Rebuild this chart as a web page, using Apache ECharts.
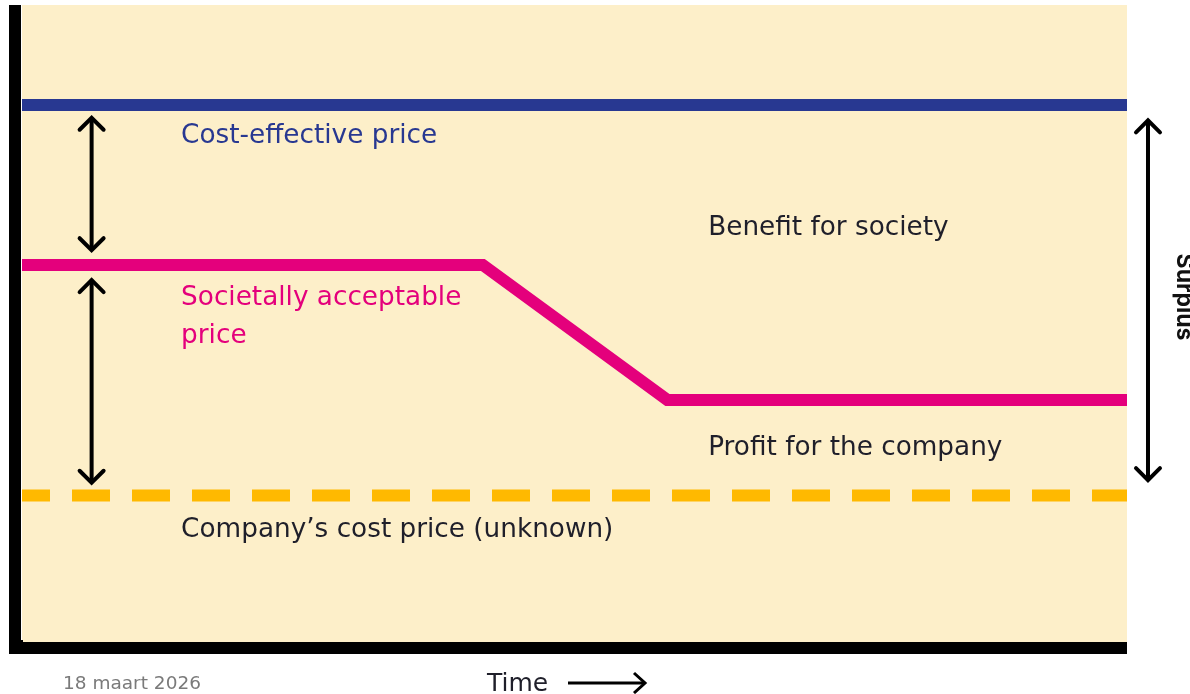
<!DOCTYPE html>
<html>
<head>
<meta charset="utf-8">
<script src="https://cdn.jsdelivr.net/npm/echarts@6/dist/echarts.min.js"></script>
<style>
html,body{margin:0;padding:0;background:#fff;}
#chart{width:1190px;height:694px;}
</style>
</head>
<body>
<div id="chart"></div>
<script>
// ---- data (conceptual price levels, 0-100 scale) ----
var costEffective = [[0, 84.3], [100, 84.3]];
var societal = [[0, 59.2], [41.7, 59.2], [58.4, 38.0], [100, 38.0]];
var companyCost = [[0, 23.0], [100, 23.0]];
// double arrows: [x, yFrom, yTo]
var arrows = [[6.3, 82.3, 61.5], [6.3, 56.8, 25.0], [101.9, 81.9, 25.4]];
// labels: [x, y, text]
var labels = [
  [14.4, 79.4, 'Cost-effective price'],
  [62.1, 65.0, 'Benefit for society'],
  [14.4, 54.0, 'Societally acceptable'],
  [14.4, 48.0, 'price'],
  [62.1, 30.4, 'Profit for the company'],
  [14.4, 17.5, 'Company\u2019s cost price (unknown)']
];
var labelColors = ['#283891', '#1f1f2a', '#e4007c', '#e4007c', '#1f1f2a', '#1f1f2a'];

var FONT = '"DejaVu Sans"';
var chart = echarts.init(document.getElementById('chart'), null, {renderer: 'canvas'});
chart.setOption({
  animation: false,
  backgroundColor: '#ffffff',
  grid: {left: 22, top: 5, width: 1105, height: 637, show: true, backgroundColor: '#fdefc9', borderWidth: 0},
  xAxis: {
    type: 'value', min: 0, max: 100, offset: 6,
    axisLine: {show: true, onZero: false, lineStyle: {color: '#000', width: 12, cap: 'butt'}},
    axisTick: {show: false}, axisLabel: {show: false}, splitLine: {show: false}
  },
  yAxis: {
    type: 'value', min: 0, max: 100, offset: 7,
    axisLine: {show: true, onZero: false, lineStyle: {color: '#000', width: 12, cap: 'butt'}},
    axisTick: {show: false}, axisLabel: {show: false}, splitLine: {show: false}
  },
  series: [
    {type: 'line', data: costEffective, symbol: 'none', lineStyle: {color: '#283891', width: 12, cap: 'butt'}},
    {type: 'line', data: companyCost, symbol: 'none', lineStyle: {color: '#ffb900', width: 12, type: [38, 22], dashOffset: 10, cap: 'butt'}},
    {type: 'line', data: societal, symbol: 'none', lineStyle: {color: '#e4007c', width: 12, join: 'miter', cap: 'butt'}},
    {
      type: 'custom', clip: false, data: arrows,
      renderItem: function (params, api) {
        var a = api.coord([api.value(0), api.value(1)]);
        var b = api.coord([api.value(0), api.value(2)]);
        var w = 12, h = 12;
        var st = {stroke: '#000', lineWidth: 4, fill: null, lineCap: 'round', lineJoin: 'miter'};
        return {type: 'group', children: [
          {type: 'line', shape: {x1: a[0], y1: a[1] + 1, x2: b[0], y2: b[1] - 1}, style: st},
          {type: 'polyline', shape: {points: [[a[0] - w, a[1] + h], [a[0], a[1]], [a[0] + w, a[1] + h]]}, style: st},
          {type: 'polyline', shape: {points: [[b[0] - w, b[1] - h], [b[0], b[1]], [b[0] + w, b[1] - h]]}, style: st}
        ]};
      }
    },
    {
      type: 'custom', clip: false, data: labels,
      renderItem: function (params, api) {
        var p = api.coord([api.value(0), api.value(1)]);
        return {type: 'text', x: p[0], y: p[1], style: {
          text: labels[params.dataIndex][2], fill: labelColors[params.dataIndex],
          font: '400 26.3px ' + FONT, textAlign: 'left', textVerticalAlign: 'middle'
        }};
      }
    }
  ],
  graphic: [
    {type: 'rect', shape: {x: 9, y: 640, width: 14, height: 14}, style: {fill: '#000'}},
    {type: 'text', x: 63, y: 684, style: {text: '18 maart 2026', fill: '#7a7a7a', font: '18.5px "DejaVu Sans"', textVerticalAlign: 'middle'}},
    {type: 'text', x: 487, y: 684, style: {text: 'Time', fill: '#1f1f2a', font: '500 25px ' + FONT, textVerticalAlign: 'middle'}},
    {type: 'line', shape: {x1: 568, y1: 683, x2: 644, y2: 683}, style: {stroke: '#000', lineWidth: 3}},
    {type: 'polyline', shape: {points: [[634, 673], [645, 683], [634, 693]]}, style: {stroke: '#000', lineWidth: 3, fill: null}},
    {type: 'text', x: 1184, y: 297, rotation: -Math.PI / 2, style: {text: 'Surplus', fill: '#111', font: '700 23px Inter', textAlign: 'center', textVerticalAlign: 'middle'}}
  ]
});
</script>
</body>
</html>
